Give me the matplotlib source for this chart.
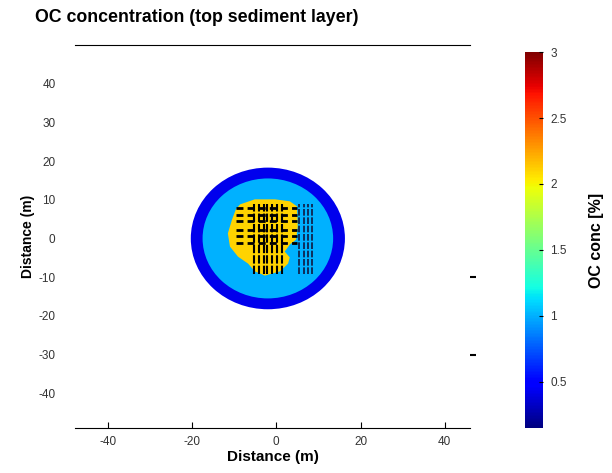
import numpy as np
import matplotlib
matplotlib.use('Agg')
import matplotlib.pyplot as plt
from matplotlib.patches import Ellipse, Polygon
from matplotlib.colors import Normalize

# concentration zones (outer ring, inner disc) around the centre
center = (-2.0, 0.0)
zone_radius = [18.3, 15.5]
zone_conc = [0.42, 1.0]

# high concentration patch outline
patch_x = [-8.6, -5.1, -0.3, 3.2, 4.9, 5.1, 4.7, 3.2, 2.0, 3.2, 2.8, 0.9, -2.7, -5.1, -6.7, -9.1, -11.0, -11.5, -10.5, -9.6]
patch_y = [8.8, 10.1, 10.1, 9.6, 8.3, 3.1, -0.3, -1.6, -3.4, -4.9, -6.5, -8.5, -9.6, -8.5, -6.5, -4.7, -2.1, 1.3, 4.9, 7.5]
patch_conc = 2.1

# sampling grid lines
grid_x = [-5.2, -4.2, -3.0, -2.2, -1.0, 0.1, 1.3]
grid_x_right = [5.3, 6.5, 7.5, 8.5]
grid_y = [7.9, 6.1, 4.4, 2.3, 0.5, -1.2]

cmap = plt.get_cmap('jet')
norm = Normalize(vmin=0.15, vmax=3)

plt.rcParams['font.family'] = ['Liberation Sans', 'DejaVu Sans']
plt.rcParams['axes.unicode_minus'] = False

fig = plt.figure(figsize=(6.12, 4.73), dpi=100)
ax = fig.add_axes([0.1225, 0.095, 0.6455, 0.81])

for r, c in zip(zone_radius, zone_conc):
    ax.add_patch(Ellipse(center, 2 * r, 2 * r, facecolor=cmap(norm(c)), edgecolor='none'))
ax.add_patch(Polygon(np.column_stack([patch_x, patch_y]), closed=True,
                     facecolor=cmap(norm(patch_conc)), edgecolor='none'))

for gx in grid_x:
    ax.plot([gx, gx], [-9.1, 8.8], color='black', lw=1.5, ls=(0, (4, 1)))
for gx in grid_x_right:
    ax.plot([gx, gx], [-9.1, 8.8], color='#101840', lw=1.2, ls=(0, (4, 1)))
for gy in grid_y:
    ax.plot([-9.5, 5.0], [gy, gy], color='black', lw=2.0, ls=(0, (2.5, 1.5)))

ax.set_xlim(-47.8, 46)
ax.set_ylim(-49, 50)
ax.set_xticks([-40, -20, 0, 20, 40])
ax.set_yticks([-40, -30, -20, -10, 0, 10, 20, 30, 40])
ax.spines['left'].set_visible(False)
ax.spines['right'].set_visible(False)
ax.tick_params(axis='x', direction='in', length=4, labelsize=8.5, labelcolor='#333333', pad=6)
ax.tick_params(axis='y', length=0, labelsize=8.5, labelcolor='#333333', pad=14)
ax.set_xlabel('Distance (m)', fontsize=11, fontweight='bold', labelpad=1)
ax.set_ylabel('Distance (m)', fontsize=10, fontweight='bold')
ax.yaxis.set_label_coords(-0.1, 0.5)

# stray tick marks on the right edge
sec = ax.secondary_yaxis('right')
sec.set_yticks([-10, -30])
sec.set_yticklabels([])
sec.spines['right'].set_visible(False)
sec.tick_params(direction='out', length=4, width=1.5)

fig.text(35 / 612, 1 - 18 / 473, 'OC concentration (top sediment layer)',
         fontsize=12.8, fontweight='bold', ha='left', va='center')

cax = fig.add_axes([0.858, 0.095, 0.0294, 0.795])
sm = plt.cm.ScalarMappable(norm=norm, cmap=cmap)
cb = fig.colorbar(sm, cax=cax)
cb.set_ticks([0.5, 1, 1.5, 2, 2.5, 3])
cb.set_ticklabels(['0.5', '1', '1.5', '2', '2.5', '3'])
cb.outline.set_visible(False)
cax.tick_params(direction='in', length=3, labelsize=8.5, labelcolor='#333333', pad=5)
cb.set_label('OC conc [%]', fontsize=11.5, fontweight='bold', labelpad=16)

fig.savefig('out.png', dpi=100)
